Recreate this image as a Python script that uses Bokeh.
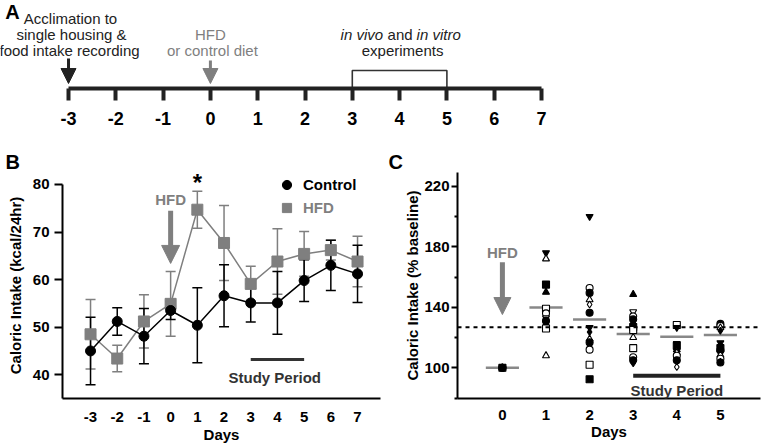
from bokeh.plotting import figure
from bokeh.layouts import column, row
from bokeh.models import (Range1d, LinearAxis, FixedTicker, Label, Arrow, NormalHead,
                          Whisker, TeeHead, ColumnDataSource, Legend, LegendItem, Span)
from bokeh.embed import file_html
from bokeh.resources import INLINE

FONT = "Liberation Sans"
GREY = "#7f7f7f"
DARK = "#222222"

# ---------------- Panel A data ----------------
timeline_days = [-3, -2, -1, 0, 1, 2, 3, 4, 5, 6, 7]
acclimation_day = -3
diet_day = 0
experiment_days = [3, 5]

# ---------------- Panel B data ----------------
days_b = [-3, -2, -1, 0, 1, 2, 3, 4, 5, 6, 7]
control_mean = [45.0, 51.2, 48.1, 53.5, 50.4, 56.6, 55.1, 55.1, 59.8, 63.0, 61.2]
control_err = [7.1, 2.9, 5.8, 1.9, 7.9, 6.5, 4.0, 6.6, 4.4, 5.3, 6.0]
hfd_mean = [48.5, 43.4, 51.2, 54.9, 74.7, 67.7, 59.1, 63.8, 65.4, 66.2, 63.8]
hfd_err = [7.3, 2.8, 5.6, 6.8, 3.9, 7.9, 3.7, 6.9, 4.7, 2.1, 5.3]
study_period = [3, 5]
sig_day = 1
b_yticks = [40, 50, 60, 70, 80]

# ---------------- Panel C data ----------------
days_c = [0, 1, 2, 3, 4, 5]
c_means = [100, 139.8, 131.9, 122.3, 120.5, 121.6]
baseline_ref = 126.8
c_yticks = [100, 140, 180, 220]
c_yminor = [80, 120, 160, 200]

d0_vals = [100, 100, 100, 100, 100, 100]
d0_marks = ["triangle", "inverted_triangle", "square", "diamond", "circle", "circle"]
d0_fill = ["k", "k", "k", "k", "w", "k"]

d1_vals = [176, 172, 155, 150, 139, 136, 133, 131, 129, 128, 126, 108]
d1_marks = ["inverted_triangle", "triangle", "square", "triangle", "square", "circle",
            "inverted_triangle", "circle", "triangle", "diamond", "square", "triangle"]
d1_fill = ["k", "w", "k", "k", "w", "w", "w", "k", "k", "k", "w", "w"]

d2_vals = [200, 152.7, 149.5, 145, 141.8, 136.4, 126.6, 123.7, 119, 116.8, 112, 102, 92.4]
d2_marks = ["inverted_triangle", "circle", "circle", "triangle", "diamond", "circle",
            "inverted_triangle", "diamond", "triangle", "circle", "circle", "square", "square"]
d2_fill = ["k", "w", "k", "w", "w", "k", "k", "k", "w", "k", "w", "w", "k"]

d3_vals = [148.5, 137, 134, 132, 130, 127, 125, 120, 113, 107, 105, 103]
d3_marks = ["triangle", "inverted_triangle", "circle", "circle", "diamond", "square",
            "square", "triangle", "square", "circle", "circle", "diamond"]
d3_fill = ["k", "w", "w", "k", "k", "k", "w", "w", "w", "w", "k", "k"]

d4_vals = [128.3, 126.6, 116, 114.5, 112, 110, 108, 105, 104, 100.5]
d4_marks = ["square", "inverted_triangle", "inverted_triangle", "square", "triangle",
            "triangle", "circle", "circle", "diamond", "diamond"]
d4_fill = ["w", "k", "k", "k", "k", "w", "w", "k", "k", "w"]

d5_vals = [129, 127.6, 126.5, 124.5, 116.5, 113, 111.5, 108.5, 106, 103.5, 104]
d5_marks = ["circle", "circle", "triangle", "diamond", "inverted_triangle", "square",
            "circle", "triangle", "circle", "circle", "diamond"]
d5_fill = ["k", "w", "w", "k", "k", "k", "k", "w", "w", "k", "k"]


def lab(p, x, y, text, size="15px", color="black", style="bold", align="center",
        baseline="middle", x_offset=0):
    p.add_layout(Label(x=x, y=y, text=text, text_font=FONT, text_font_size=size,
                       text_color=color, text_font_style=style, text_align=align,
                       text_baseline=baseline, x_offset=x_offset))


def style_axis(ax, size="15px"):
    ax.axis_line_width = 2
    ax.axis_line_color = "black"
    ax.major_tick_line_width = 2
    ax.major_tick_line_color = "black"
    ax.minor_tick_line_width = 2
    ax.minor_tick_line_color = "black"
    ax.major_label_text_font = FONT
    ax.major_label_text_font_style = "bold"
    ax.major_label_text_font_size = size
    ax.major_label_text_color = "black"
    ax.axis_label_text_font = FONT
    ax.axis_label_text_font_style = "bold"
    ax.axis_label_text_font_size = size
    ax.axis_label_text_color = "black"


def panel_title(p, letter, offset):
    p.title.text = letter
    p.title.align = "left"
    p.title.offset = offset
    p.title.standoff = 0
    p.title.text_font = FONT
    p.title.text_font_size = "20px"
    p.title.text_font_style = "bold"
    p.title.text_color = "black"


# ======================= Panel A =======================
pa = figure(width=765, height=133, x_range=Range1d(-4.438, 11.736), y_range=Range1d(0, 88),
            x_axis_type=None, y_axis_type=None, toolbar_location=None, output_backend="svg",
            min_border_left=0, min_border_right=0, min_border_top=0, min_border_bottom=45)
pa.outline_line_color = None
ax = LinearAxis(ticker=FixedTicker(ticks=timeline_days),
                bounds=(timeline_days[0], timeline_days[-1]))
ax.axis_line_width = 4
ax.axis_line_color = DARK
ax.major_tick_line_width = 4
ax.major_tick_line_color = DARK
ax.major_tick_out = 12
ax.major_tick_in = 0
ax.minor_tick_out = 0
ax.minor_tick_in = 0
ax.major_label_standoff = 11
ax.major_label_text_font = FONT
ax.major_label_text_font_style = "bold"
ax.major_label_text_font_size = "18px"
ax.major_label_text_color = "black"
ax.major_label_overrides = {d: str(d) for d in timeline_days}
pa.add_layout(ax, "below")

e0, e1 = experiment_days
pa.line(x=[e0, e0, e1, e1], y=[0, 18, 18, 0], line_color="#333333", line_width=1.6)

lab(pa, -4.184, 77, "A", size="20px")
lab(pa, acclimation_day, 70, "Acclimation to", style="normal", color=DARK, x_offset=2)
lab(pa, acclimation_day, 54, "single housing &", style="normal", color=DARK, x_offset=3)
lab(pa, acclimation_day, 38, "food intake recording", style="normal", color=DARK, x_offset=1)
pa.add_layout(Arrow(end=NormalHead(size=15, fill_color=DARK, line_color=DARK),
                    x_start=acclimation_day, y_start=30, x_end=acclimation_day, y_end=5,
                    line_color=DARK, line_width=3))
lab(pa, diet_day, 54, "HFD", style="normal", color=GREY)
lab(pa, diet_day, 38, "or control diet", style="normal", color=GREY, x_offset=2)
pa.add_layout(Arrow(end=NormalHead(size=15, fill_color=GREY, line_color=GREY),
                    x_start=diet_day, y_start=28, x_end=diet_day, y_end=5,
                    line_color=GREY, line_width=3))
mid = (e0 + e1) / 2
lab(pa, mid, 54, "in vivo", style="italic", color=DARK, align="left", x_offset=-59)
lab(pa, mid, 54, "and", style="normal", color=DARK, align="left", x_offset=-12)
lab(pa, mid, 54, "in vitro", style="italic", color=DARK, align="left", x_offset=17)
lab(pa, mid, 38, "experiments", style="normal", color=DARK, x_offset=3)

# ======================= Panel B =======================
pb = figure(width=383, height=313, x_range=Range1d(-4.05, 7.86), y_range=Range1d(35, 82.52),
            toolbar_location=None, output_backend="svg", title="B",
            min_border_left=62, min_border_right=3, min_border_top=39, min_border_bottom=48)
pb.outline_line_color = None
pb.grid.visible = False
panel_title(pb, "B", -57)
for a in (pb.xaxis[0], pb.yaxis[0]):
    style_axis(a)
pb.xaxis.ticker = FixedTicker(ticks=days_b)
pb.xaxis.major_label_overrides = {d: str(d) for d in days_b}
pb.xaxis.major_tick_out = 0
pb.xaxis.major_tick_in = 0
pb.xaxis.minor_tick_out = 0
pb.xaxis.minor_tick_in = 0
pb.xaxis.major_label_standoff = 13
pb.xaxis.axis_label = "Days"
pb.xaxis.axis_label_standoff = 1
pb.yaxis.ticker = FixedTicker(ticks=b_yticks)
pb.yaxis.bounds = (35, 80)
pb.yaxis.major_tick_out = 8
pb.yaxis.major_tick_in = 0
pb.yaxis.minor_tick_out = 0
pb.yaxis.minor_tick_in = 0
pb.yaxis.major_label_standoff = 5
pb.yaxis.axis_label = "Caloric Intake (kcal/24hr)"
pb.yaxis.axis_label_standoff = 6

src_h = ColumnDataSource(dict(x=days_b, y=hfd_mean,
                              lo=[m - e for m, e in zip(hfd_mean, hfd_err)],
                              hi=[m + e for m, e in zip(hfd_mean, hfd_err)]))
src_c = ColumnDataSource(dict(x=days_b, y=control_mean,
                              lo=[m - e for m, e in zip(control_mean, control_err)],
                              hi=[m + e for m, e in zip(control_mean, control_err)]))
for src, col in ((src_h, GREY), (src_c, "black")):
    pb.add_layout(Whisker(source=src, base="x", upper="hi", lower="lo",
                          line_color=col, line_width=1.5,
                          upper_head=TeeHead(size=10, line_color=col, line_width=1.5),
                          lower_head=TeeHead(size=10, line_color=col, line_width=1.5)))
pb.line("x", "y", source=src_h, line_color=GREY, line_width=1.5)
rh = pb.scatter("x", "y", source=src_h, marker="square", size=11,
                fill_color=GREY, line_color=GREY)
pb.line("x", "y", source=src_c, line_color="black", line_width=1.5)
rc = pb.scatter("x", "y", source=src_c, marker="circle", size=10,
                fill_color="black", line_color="black")

for item, tcol, loc in (("Control", "black", (212, 202)), ("HFD", GREY, (212, 179))):
    r = rc if item == "Control" else rh
    leg = Legend(items=[LegendItem(label=item, renderers=[r])], location=loc,
                 background_fill_alpha=0, border_line_color=None, padding=0, margin=0,
                 glyph_width=25, glyph_height=23, label_standoff=4, label_height=23,
                 label_text_font=FONT, label_text_font_style="bold",
                 label_text_font_size="15px", label_text_color=tcol)
    pb.add_layout(leg)

pb.line(x=study_period, y=[43.2, 43.2], line_color="#333333", line_width=3)
lab(pb, 3.9, 39.4, "Study Period", color="#333333")
lab(pb, diet_day, 76.8, "HFD", color=GREY)
pb.add_layout(Arrow(end=NormalHead(size=18, fill_color=GREY, line_color=GREY),
                    x_start=diet_day, y_start=74.5, x_end=diet_day, y_end=63.4,
                    line_color=GREY, line_width=5))
lab(pb, sig_day, 80.5, "*", size="24px")

# ======================= Panel C =======================
pc = figure(width=382, height=313, x_range=Range1d(-1.03, 5.92), y_range=Range1d(79.7, 229.1),
            toolbar_location=None, output_backend="svg", title="C",
            min_border_left=74, min_border_right=5, min_border_top=39, min_border_bottom=46)
pc.outline_line_color = None
pc.grid.visible = False
panel_title(pc, "C", -69)
for a in (pc.xaxis[0], pc.yaxis[0]):
    style_axis(a)
pc.xaxis.ticker = FixedTicker(ticks=days_c)
pc.xaxis.major_tick_out = 0
pc.xaxis.major_tick_in = 0
pc.xaxis.minor_tick_out = 0
pc.xaxis.minor_tick_in = 0
pc.xaxis.major_label_standoff = 11
pc.xaxis.axis_label = "Days"
pc.xaxis.axis_label_standoff = 0
pc.yaxis.ticker = FixedTicker(ticks=c_yticks, minor_ticks=c_yminor)
pc.yaxis.major_tick_out = 6
pc.yaxis.major_tick_in = 0
pc.yaxis.minor_tick_out = 3
pc.yaxis.minor_tick_in = 0
pc.yaxis.major_label_standoff = 2
pc.yaxis.axis_label = "Caloric Intake (% baseline)"
pc.yaxis.axis_label_standoff = 0

pc.add_layout(Span(location=baseline_ref, dimension="width", line_color="black",
                   line_width=2, line_dash="4 4"))

half = 0.38
pc.segment(x0=[d - half for d in days_c], x1=[d + half for d in days_c],
           y0=c_means, y1=c_means, line_color="#888888", line_width=2.5)

xs, ys, ms, fs = [], [], [], []
for d, vals, marks, fills in ((1, d1_vals, d1_marks, d1_fill), (2, d2_vals, d2_marks, d2_fill),
                              (3, d3_vals, d3_marks, d3_fill), (4, d4_vals, d4_marks, d4_fill),
                              (5, d5_vals, d5_marks, d5_fill), (0, d0_vals, d0_marks, d0_fill)):
    for v, m, f in zip(vals, marks, fills):
        xs.append(d)
        ys.append(v)
        ms.append(m)
        fs.append("black" if f == "k" else "white")
src_pts = ColumnDataSource(dict(x=xs, y=ys, mk=ms, fc=fs))
pc.scatter(x="x", y="y", marker="mk", fill_color="fc", line_color="black",
           line_width=1.1, size=7, source=src_pts)

pc.line(x=study_period, y=[94.8, 94.8], line_color=DARK, line_width=4)
lab(pc, 4.0, 85.0, "Study Period", color="#333333")
lab(pc, diet_day, 176.3, "HFD", color=GREY)
pc.add_layout(Arrow(end=NormalHead(size=17, fill_color=GREY, line_color=GREY),
                    x_start=diet_day, y_start=169.8, x_end=diet_day, y_end=135.2,
                    line_color=GREY, line_width=5))

layout = column(pa, row(pb, pc))
open("out.html", "w").write(file_html(layout, INLINE))
